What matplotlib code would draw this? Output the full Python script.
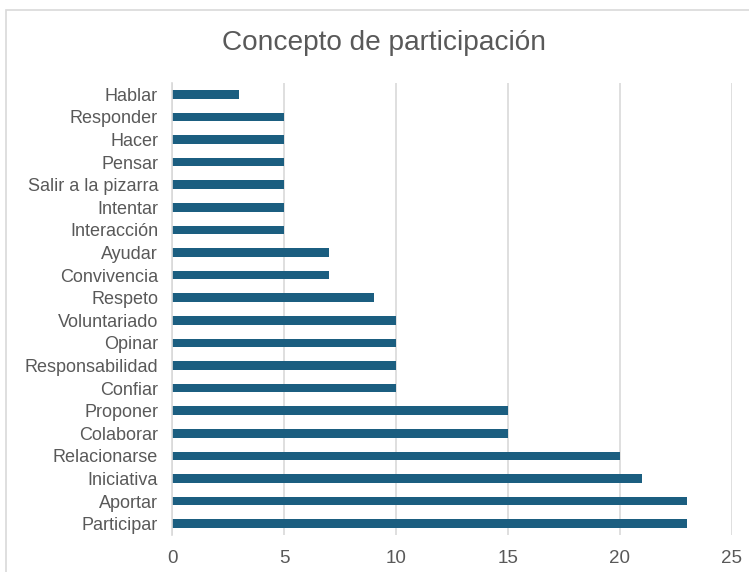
import matplotlib
matplotlib.use("Agg")
import matplotlib.pyplot as plt
from matplotlib.patches import Rectangle

categories = ["Hablar", "Responder", "Hacer", "Pensar", "Salir a la pizarra", "Intentar",
              "Interacción", "Ayudar", "Convivencia", "Respeto", "Voluntariado", "Opinar",
              "Responsabilidad", "Confiar", "Proponer", "Colaborar", "Relacionarse",
              "Iniciativa", "Aportar", "Participar"]
values = [3, 5, 5, 5, 5, 5, 5, 7, 7, 9, 10, 10, 10, 10, 15, 15, 20, 21, 23, 23]
xticks = [0, 5, 10, 15, 20, 25]

plt.rcParams['font.family'] = ['Liberation Sans', 'DejaVu Sans']

W, H = 749, 572
fig = plt.figure(figsize=(W / 100, H / 100), dpi=100)
fig.patch.set_facecolor("white")
fig.patches.append(Rectangle((6 / W, -0.2), 1, 1.2 - 10 / H, transform=fig.transFigure,
                             fill=False, edgecolor="#d9d9d9", linewidth=1.2))

ax = fig.add_axes([172 / W, 1 - 535 / H, (732 - 172) / W, (535 - 83) / H])
y = list(range(len(categories)))
ax.barh(y, values, height=0.38, color="#1b5e80")
ax.set_ylim(len(categories) - 0.5, -0.5)
ax.set_xlim(0, 25)
ax.set_xticks(xticks)
ax.set_xticklabels([str(t) for t in xticks])
ax.set_yticks(y)
ax.set_yticklabels(categories)
ax.grid(axis="x", color="#d9d9d9", linewidth=1.2)
ax.set_axisbelow(True)
for s in ["top", "right", "bottom"]:
    ax.spines[s].set_visible(False)
ax.spines["left"].set_color("#d9d9d9")
ax.spines["left"].set_linewidth(1.2)
ax.tick_params(axis="both", length=0, colors="#595959")
ax.tick_params(axis="y", labelsize=13, pad=10)
ax.tick_params(axis="x", labelsize=13.5, pad=11)

fig.text((222 + 545) / 2 / W, 1 - 43 / H, "Concepto de participación", ha="center", va="center",
         fontsize=20.2, color="#595959")

fig.savefig("out.png", dpi=100)
